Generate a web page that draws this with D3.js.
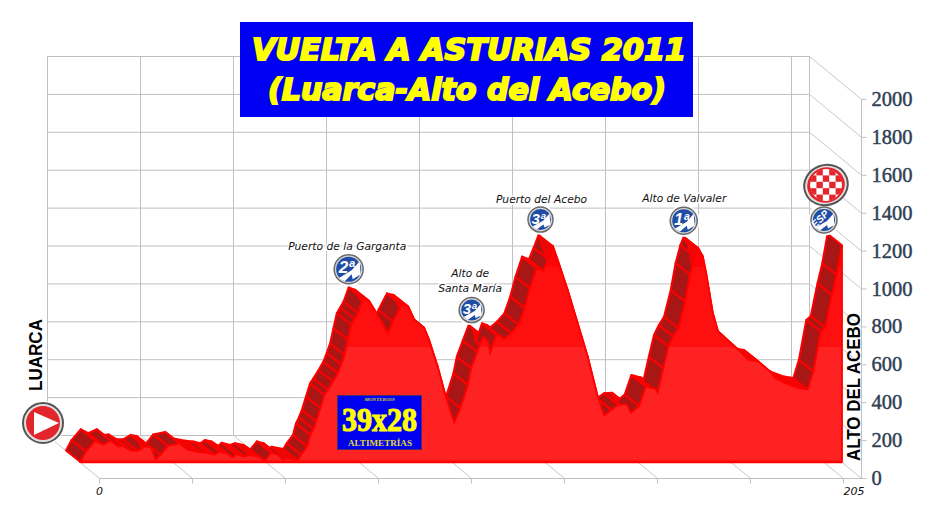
<!DOCTYPE html>
<html><head><meta charset="utf-8">
<script src="https://cdn.jsdelivr.net/npm/d3@7"></script>
<style>html,body{margin:0;padding:0;background:#fff}svg{display:block}</style></head>
<body><svg id="c" width="938" height="511"></svg>
<script>
const titleLines = ["VUELTA A ASTURIAS 2011", "(Luarca-Alto del Acebo)"];
const startName = "LUARCA";
const endName = "ALTO DEL ACEBO";
const elevTicks = [0,200,400,600,800,1000,1200,1400,1600,1800,2000];
const kmGridTicks = [0,25,50,75,100,125,150,175,200];
const km = [0,1.5,4,6,8.3,10.1,11.4,13.7,15.4,17.4,19,20.2,21.6,23.5,26.7,28.9,32.1,34.3,36.1,37.4,39.2,41,41.9,44.2,45.5,47.8,49.6,51.4,53.2,54.5,55.4,58.5,59.4,61.1,61.9,62.7,63.5,64.6,65.7,66.6,68,69.3,70.2,71.1,72,72.9,73.8,74.7,76.1,77.7,79.9,82.8,84.1,86.4,88.2,89.8,92.5,93.8,96.1,98.3,100.6,102.3,104.3,105.2,106.8,108.4,109.7,110.3,112,113.3,114,116,118,119.6,121,122.8,124.6,125.9,127.2,128.4,131.1,133.8,136.5,139.2,141,143,144.8,147,148.2,150.4,152.2,154.7,155.4,156.9,158.3,159.6,161,162.8,164.1,165.4,166.3,167.5,168.4,169.3,170.2,171.6,177.1,179.8,182.5,186.1,187,189.7,193.3,195.8,197.3,199.3,200.5,202.3,203.6,205];
const elev = [0,55,112,91,112,82,85,59,59,82,77,13,38,85,98,64,52,47,38,55,47,24,41,29,38,29,6,48,38,11,20,8,38,82,143,175,214,285,354,381,425,469,515,565,645,724,755,785,861,849,778,678,741,829,821,752,708,646,506,347,207,284,407,495,580,662,636,576,671,662,646,680,724,812,917,1023,1009,1070,1137,1069,910,734,558,347,245,275,302,305,259,295,398,386,365,495,610,662,706,847,988,1084,1128,1086,998,893,787,690,592,539,530,469,442,416,390,383,478,689,710,882,988,1143];
const climbs = [
 {name:["Puerto de la Garganta"], km:76.1, cat:"2ª"},
 {name:["Alto de","Santa María"], km:108.4, cat:"3ª"},
 {name:["Puerto del Acebo"], km:127.2, cat:"3ª"},
 {name:["Alto de Valvaler"], km:166.3, cat:"1ª"}
];
const logoText = ["MONTERO19","39x28","ALTIMETRÍAS"];

const svg = d3.select("#c");
// 3D box
const depthX=52, depthY=43;
const yFront = d3.scaleLinear().domain([0,2000]).range([478,99]);
const yBack = v => yFront(v)-depthY;
const gridX = kmGridTicks.map(k=>99+ (k/25)*93);
const grid = svg.append("g").attr("fill","none");
const gc="#c0c0c0";
grid.selectAll(".h").data(elevTicks).join("line")
 .attr("x1",47).attr("x2",809).attr("y1",d=>yBack(d)+.5).attr("y2",d=>yBack(d)+.5).attr("stroke",gc);
const backX = gridX.map(x=>x-depthX).concat([809]);
grid.selectAll(".v").data(backX).join("line")
 .attr("x1",d=>d+.5).attr("x2",d=>d+.5).attr("y1",yBack(2000)).attr("y2",yBack(0)).attr("stroke",gc);
grid.selectAll(".d").data(elevTicks).join("line")
 .attr("x1",809).attr("x2",861).attr("y1",d=>yBack(d)).attr("y2",d=>yFront(d)).attr("stroke","#c8c8c8");
grid.selectAll(".f").data(gridX).join("line")
 .attr("x1",d=>d-depthX).attr("x2",d=>d).attr("y1",yBack(0)).attr("y2",yFront(0)).attr("stroke","#c8c8c8");
const xAxisG = svg.append("g").attr("transform","translate(0,478.5)");
xAxisG.append("line").attr("x1",99).attr("x2",861.5).attr("stroke",gc);
xAxisG.selectAll(".t").data(gridX).join("line").attr("x1",d=>d+.5).attr("x2",d=>d+.5).attr("y1",0).attr("y2",5).attr("stroke",gc);
const kmLabel = svg.append("g").attr("font-family","'DejaVu Sans'").attr("font-style","italic").attr("font-size",11).attr("fill","#111").attr("text-anchor","middle");
kmLabel.append("text").attr("x",99.5).attr("y",495).text("0");
kmLabel.append("text").attr("x",854).attr("y",495).text("205");
const yAxis = d3.axisRight(yFront).tickValues(elevTicks).tickFormat(d3.format("d")).tickSize(5).tickPadding(5);
const ya = svg.append("g").attr("transform","translate(861.5,0)").call(yAxis);
ya.select(".domain").attr("stroke",gc).attr("d","M0,99V478");
ya.selectAll(".tick line").attr("stroke",gc);
ya.selectAll(".tick text").attr("font-family","'Liberation Serif'").attr("font-size",20.5).attr("fill","#2f4054").attr("stroke","#2f4054").attr("stroke-width",.45);

// profile
const frontBaseY=462, frontX0=80.5, offX=14.5, offY=11.5;
const xProf = d3.scaleLinear().domain([0,205]).range([frontX0,frontX0+761.5]);
const yProf = d3.scaleLinear().domain([0,2000]).range([frontBaseY,frontBaseY-379]);
const pts = km.map((k,i)=>({f:[xProf(k),yProf(elev[i])],b:[xProf(k)-offX,yProf(elev[i])-offY]}));
const prof = svg.append("g");
prof.selectAll("path.q").data(d3.pairs(pts)).join("path").attr("class","q")
 .attr("d",([a,c])=>"M"+a.b+"L"+c.b+"L"+c.f+"L"+a.f+"Z")
 .attr("fill",([a,c])=>{const dy=c.f[1]-a.f[1];return dy<-1?"#a81616":(dy<1?"#c01010":"#e80808");})
 .attr("stroke","#ff0000").attr("stroke-width",2).attr("stroke-linejoin","round");
const defs = svg.append("defs");
const lg = defs.append("linearGradient").attr("id","bands").attr("gradientUnits","userSpaceOnUse").attr("x1",0).attr("x2",0).attr("y1",83).attr("y2",frontBaseY);
const bnd=[[0,"#ff0404"],[(267-83)/379,"#ff0404"],[(267-83)/379,"#ff1010"],[(347-83)/379,"#ff1010"],[(347-83)/379,"#ff2222"],[1,"#ff2222"]];
lg.selectAll("stop").data(bnd).join("stop").attr("offset",d=>d[0]).attr("stop-color",d=>d[1]);
const area = d3.area().x(d=>d.f[0]).y1(d=>d.f[1]).y0(frontBaseY);
prof.append("path").datum(pts).attr("d",area).attr("fill","url(#bands)").attr("stroke","#ff0000").attr("stroke-width",1.8);
prof.append("line").attr("x1",frontX0).attr("x2",xProf(205)).attr("y1",frontBaseY).attr("y2",frontBaseY).attr("stroke","#ff0000").attr("stroke-width",2.4);

// labels
const halo = s=>s.attr("paint-order","stroke").attr("stroke","#fff").attr("stroke-width",3).attr("stroke-linejoin","round");
const lab = svg.append("g").attr("font-family","'DejaVu Sans'").attr("font-style","italic").attr("font-size",10.7).attr("fill","#111").attr("text-anchor","middle");
const labelY = {0:250,1:[277,292],2:203,3:202};
const labelDx = [-1.5,1.5,3,0.5];
const badgeDy = [17,16,16.5,16];
const badgeDx = [0,3,2,0];
const badgeR = [15,13,13,14];
climbs.forEach((c,i)=>{
  const px = xProf(c.km)-offX, py=yProf(elev[km.indexOf(c.km)])-offY;
  const ys = Array.isArray(labelY[i])?labelY[i]:[labelY[i]];
  c.name.forEach((n,j)=>halo(lab.append("text").attr("x",px+labelDx[i]).attr("y",ys[j]).text(n)));
  badge(px+badgeDx[i], py-badgeDy[i]-(badgeR[i]-14), badgeR[i], c.cat);
});
badge(824, 220, 13.5, "ESP", true);

function badge(cx,cy,r,t,rot){
  const g=svg.append("g");
  g.append("circle").attr("cx",cx).attr("cy",cy).attr("r",r+2).attr("fill","#fff");
  g.append("circle").attr("cx",cx).attr("cy",cy).attr("r",r-.5).attr("fill","#d8d8d8").attr("stroke","#6a6a6a").attr("stroke-width",1.5);
  g.append("circle").attr("cx",cx).attr("cy",cy).attr("r",r-2.5).attr("fill","#1f4da6");
  g.append("path").attr("d",`M${cx-r+5},${cy+r-6}L${cx+3},${cy+1}L${cx+r-4},${cy-r+7}L${cx+r-3},${cy+5}L${cx+4},${cy+r-5}L${cx+3},${cy+5}L${cx-4},${cy+r-3}Z`).attr("fill","#fff");
  g.append("text").attr("x",rot?cx-3:cx-2).attr("y",rot?cy+2:cy+4).attr("text-anchor","middle").attr("fill","#fff")
   .attr("font-family","'Liberation Sans'").attr("font-weight","bold").attr("font-style","italic").attr("font-size",rot?10:r+2)
   .attr("transform",rot?`rotate(-45 ${cx-3} ${cy})`:null).text(t);
}
// start badge
(function(){
  const g=svg.append("g"),cx=43,cy=423,r=21;
  g.append("circle").attr("cx",cx).attr("cy",cy).attr("r",r+1).attr("fill","#fff");
  g.append("circle").attr("cx",cx).attr("cy",cy).attr("r",r-1).attr("fill","#e0e0e0").attr("stroke","#555").attr("stroke-width",2);
  g.append("circle").attr("cx",cx).attr("cy",cy).attr("r",r-4).attr("fill","#e3262c");
  g.append("path").attr("d",`M${cx-9},${cy-11}L${cx+16},${cy}L${cx-9},${cy+12}Z`).attr("fill","#fff");
})();
// finish badge
(function(){
  const g=svg.append("g"),cx=826,cy=185;
  g.append("ellipse").attr("cx",cx).attr("cy",cy).attr("rx",22).attr("ry",20).attr("transform",`rotate(-20 ${cx} ${cy})`).attr("fill","#e0e0e0").attr("stroke","#555").attr("stroke-width",2);
  g.append("ellipse").attr("cx",cx).attr("cy",cy).attr("rx",19).attr("ry",17.5).attr("transform",`rotate(-20 ${cx} ${cy})`).attr("fill","#e3262c");
  const clip=svg.append("clipPath").attr("id","fin");
  clip.append("circle").attr("cx",cx).attr("cy",cy).attr("r",16);
  const cells=g.append("g").attr("clip-path","url(#fin)");
  cells.append("circle").attr("cx",cx).attr("cy",cy).attr("r",16).attr("fill","#fff");
  const s=6.4;
  d3.range(-3,4).forEach(i=>d3.range(-3,4).forEach(j=>{
    if((i+j+8)%2==1) cells.append("rect").attr("x",cx+i*s-s/2).attr("y",cy+j*s-s/2).attr("width",s).attr("height",s).attr("fill","#e3262c");
  }));
})();
// title
svg.append("rect").attr("x",240).attr("y",22).attr("width",453).attr("height",95).attr("fill","#0000f5");
const tg=svg.append("g").attr("fill","#ffff00").attr("stroke","#ffff00").attr("stroke-width",2).attr("font-family","'DejaVu Sans'").attr("font-weight","bold").attr("font-style","italic").attr("font-size",30);
tg.append("text").attr("x",252).attr("y",60).attr("textLength",434).attr("lengthAdjust","spacingAndGlyphs").text(titleLines[0]);
tg.append("text").attr("x",268).attr("y",100).attr("textLength",398).attr("lengthAdjust","spacingAndGlyphs").text(titleLines[1]);
// side names
const sn=svg.append("g").attr("font-family","'Liberation Sans'").attr("font-weight","bold").attr("font-size",18).attr("fill","#000");
sn.append("text").attr("transform","translate(42,391) rotate(-90)").attr("textLength",72).attr("lengthAdjust","spacingAndGlyphs").text(startName);
sn.append("text").attr("transform","translate(860,461) rotate(-90)").attr("textLength",148).attr("lengthAdjust","spacingAndGlyphs").text(endName);
// logo
const lgG=svg.append("g");
lgG.append("rect").attr("x",337.5).attr("y",395.5).attr("width",84).attr("height",54).attr("fill","#0000f0").attr("stroke","#4a2a6a");
lgG.append("text").attr("x",379.5).attr("y",400.5).attr("text-anchor","middle").attr("font-family","'Liberation Serif'").attr("font-weight","bold").attr("font-style","italic").attr("font-size",5).attr("fill","#d8d820").text(logoText[0]);
lgG.append("text").attr("x",342).attr("y",431).attr("font-family","'Liberation Serif'").attr("font-weight","bold").attr("font-size",34).attr("textLength",75).attr("lengthAdjust","spacingAndGlyphs").attr("fill","#ffff00").attr("stroke","#ffff00").attr("stroke-width",1.1).text(logoText[1]);
lgG.append("text").attr("x",348).attr("y",446).attr("font-family","'Liberation Serif'").attr("font-weight","bold").attr("font-size",9).attr("textLength",64).attr("lengthAdjust","spacingAndGlyphs").attr("fill","#e0d830").text(logoText[2]);
</script></body></html>
